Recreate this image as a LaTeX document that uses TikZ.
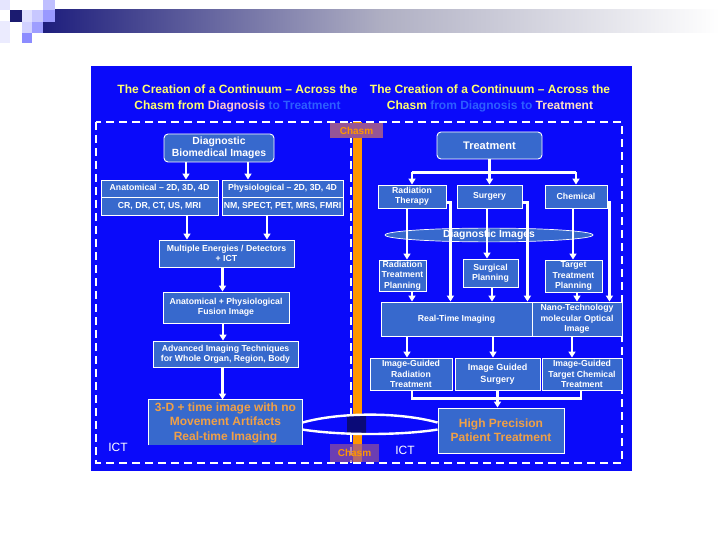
\documentclass[tikz,border=0pt]{standalone}
\usepackage{fontspec}
\setmainfont{Liberation Sans}
\usetikzlibrary{arrows.meta,calc,positioning,shapes.geometric}
\definecolor{PanelBlue}{RGB}{10,10,250}
\definecolor{BoxBlue}{RGB}{55,105,205}
\definecolor{ChasmOrange}{RGB}{255,150,0}
\definecolor{ChasmMauve}{RGB}{150,85,150}
\definecolor{TitleYellow}{RGB}{255,255,110}
\definecolor{TitlePink}{RGB}{255,200,205}
\definecolor{FaintBlue}{RGB}{45,95,255}
\definecolor{PeachText}{RGB}{255,225,195}
\definecolor{BridgeNavy}{RGB}{10,10,120}
\definecolor{BigText}{RGB}{240,160,70}
\definecolor{BarNavy}{RGB}{30,30,125}
\definecolor{BarMid}{RGB}{175,175,195}
\newcommand{\downarrowat}[3]{%
  \draw[arr] ($(#1.south)+(#3,0)$)--($(#1.south |- #2.north)+(#3,0)$);}

\begin{document}
\begin{tikzpicture}[x=1pt,y=-1pt,
  box/.style={draw=white,line width=0.9pt,fill=BoxBlue,text=white,align=center,
    inner sep=0pt,font=\bfseries\fontsize{8.7}{10.4}\selectfont},
  rbox/.style={box,rounded corners=4pt,font=\bfseries\fontsize{10.4}{12.5}\selectfont},
  bigtext/.style={text=BigText,font=\bfseries\fontsize{12}{14.5}\selectfont},
  arr/.style={-{Triangle[length=6pt,width=7pt]},white,line width=2.2pt},
  link/.style={white,line width=2.2pt},
  chasmdash/.style={white,line width=1.8pt,dash pattern=on 8pt off 5pt},
  chasmlabel/.style={fill=ChasmMauve,text=ChasmOrange,inner sep=0pt,
    font=\bfseries\fontsize{10}{12}\selectfont}]
  \useasboundingbox (0,0) rectangle (720,540);
  % slide header
  \shade[left color=BarNavy,right color=white,middle color=BarMid] (43,10) rectangle (720,33);
  \fill[black!4!blue!10] (0,0) rectangle (10,10);
  \fill[black!2!blue!8] (0,21) rectangle (10,43);
  \fill[BarNavy!90!black] (10,10) rectangle (22,22);
  \fill[blue!12] (22,10) rectangle (32,22);
  \fill[blue!22] (32,10) rectangle (43,22);
  \fill[blue!25] (43,0) rectangle (55,10);
  \fill[blue!40] (43,10) rectangle (55,22);
  \fill[blue!18] (22,22) rectangle (32,33);
  \fill[blue!38] (32,22) rectangle (43,33);
  \fill[blue!45] (22,33) rectangle (32,43);

  % panel and chasm
  \fill[PanelBlue] (91,66) rectangle (632,471);
  \draw[chasmdash] (96,122) rectangle (622,463);
  \draw[chasmdash] (351,122) -- (351,463);
  \fill[ChasmOrange] (353,122) rectangle (362,462);
  \node[chasmlabel,minimum width=53pt,minimum height=15pt] (chasmTop) at (356.5,130.5) {Chasm};
  \node[chasmlabel,fill opacity=0.7,text opacity=1,minimum width=49pt,minimum height=18pt] (chasmBot) at (354.5,453) {Chasm};

  % titles
  \node[align=center,font=\bfseries\fontsize{12}{16}\selectfont] (titleL) at (237.5,98)
    {\color{TitleYellow}The Creation of a Continuum -- Across the\\
     \color{TitleYellow}Chasm from \color{TitlePink}Diagnosis \color{FaintBlue}to Treatment};
  \node[align=center,font=\bfseries\fontsize{12}{16}\selectfont] (titleR) at (490,98)
    {\color{TitleYellow}The Creation of a Continuum -- Across the\\
     \color{TitleYellow}Chasm \color{FaintBlue}from Diagnosis to \color{PeachText}Treatment};

  % diagnosis side
  \node[rbox,minimum width=110pt,minimum height=28pt] (diag) at (219,148) {Diagnostic\\Biomedical Images};
  \node[box,minimum width=117pt,minimum height=17pt] (anatA) at (159.5,188.5) {Anatomical -- 2D, 3D, 4D};
  \node[box,minimum width=117pt,minimum height=18pt] (anatB) at (159.5,206) {CR, DR, CT, US, MRI};
  \node[box,minimum width=121pt,minimum height=17pt] (physA) at (282.5,188.5) {Physiological -- 2D, 3D, 4D};
  \node[box,minimum width=121pt,minimum height=18pt] (physB) at (282.5,206) {NM, SPECT, PET, MRS, FMRI};
  \node[box,minimum width=135pt,minimum height=27pt] (multi) at (226.5,253.5) {Multiple Energies / Detectors\\+ ICT};
  \node[box,minimum width=126pt,minimum height=31pt] (fusion) at (226,307.5) {Anatomical + Physiological\\Fusion Image};
  \node[box,minimum width=145pt,minimum height=26pt] (adv) at (225.5,354) {Advanced Imaging Techniques\\for Whole Organ, Region, Body};
  \node[box,draw=none,bigtext,minimum width=153pt,minimum height=45pt] (threeD) at (225.5,422.5)
    {3-D + time image with no\\Movement Artifacts\\Real-time Imaging};
  \draw[white,line width=0.9pt] (threeD.south west) -- (threeD.north west) -- (threeD.north east) -- (threeD.south east);
  \node[text=white,font=\fontsize{12}{14}\selectfont] (ictL) at (118,447) {ICT};

  \downarrowat{diag}{anatA}{-33}
  \downarrowat{diag}{physA}{29}
  \downarrowat{anatB}{multi}{27.5}
  \downarrowat{physB}{multi}{-15.5}
  \downarrowat{multi}{fusion}{-4}
  \downarrowat{fusion}{adv}{-3}
  \downarrowat{adv}{threeD}{-3}

  % treatment side
  \node[rbox,minimum width=105pt,minimum height=27pt,font=\bfseries\fontsize{11}{13}\selectfont] (treat) at (489.5,145.5) {Treatment};
  \node[box,minimum width=68pt,minimum height=23pt] (radT) at (412,196.5) {Radiation\\Therapy};
  \node[box,minimum width=65pt,minimum height=23pt] (surg) at (489.5,196.5) {Surgery};
  \node[box,minimum width=62pt,minimum height=23pt] (chem) at (576,196.5) {Chemical};
  \node[ellipse,draw=white,line width=0.7pt,fill=BoxBlue,text=white,inner sep=0pt,
    minimum width=208pt,minimum height=13pt,font=\bfseries\fontsize{10.4}{12}\selectfont] (dimg) at (489,235) {Diagnostic Images};
  \node[box,minimum width=47pt,minimum height=31pt] (radP) at (402.5,275.5) {Radiation\\Treatment\\Planning};
  \node[box,minimum width=55pt,minimum height=28pt] (surgP) at (490.5,273) {Surgical\\Planning};
  \node[box,minimum width=57pt,minimum height=32pt] (targP) at (573.5,276) {Target\\Treatment\\Planning};
  \node[box,minimum width=151pt,minimum height=34pt] (realtime) at (456.5,319) {Real-Time Imaging};
  \node[box,minimum width=90pt,minimum height=34pt] (nano) at (577,319) {Nano-Technology\\molecular Optical\\Image};
  \node[box,minimum width=82pt,minimum height=32pt] (igRad) at (411,374) {Image-Guided\\Radiation\\Treatment};
  \node[box,minimum width=85pt,minimum height=32pt,font=\bfseries\fontsize{9}{12}\selectfont] (igSurg) at (497.5,374) {Image Guided\\Surgery};
  \node[box,minimum width=80pt,minimum height=32pt] (igChem) at (582,374) {Image-Guided\\Target Chemical\\Treatment};
  \node[box,bigtext,minimum width=126pt,minimum height=45pt,font=\bfseries\fontsize{12}{14}\selectfont] (hp) at (501,430.5) {High Precision\\Patient Treatment};
  \node[text=white,font=\fontsize{12}{14}\selectfont] (ictR) at (405,450) {ICT};

  \draw[link] (treat.south) -- ++(0,13) coordinate (split);
  \draw[link] (split -| radT) -- (split -| chem);
  \draw[arr] (split -| radT) -- (radT.north);
  \draw[arr] (split -| surg) -- (surg.north);
  \draw[arr] (split -| chem) -- (chem.north);
  \downarrowat{radT}{radP}{-5}
  \downarrowat{surg}{surgP}{-2.5}
  \downarrowat{chem}{targP}{-3}
  \draw[arr] ($(radT.east)+(0,6)$) -| ($(radT.east |- realtime.north)+(4,0)$);
  \draw[arr] ($(surg.east)+(0,6)$) -| ($(surg.east |- realtime.north)+(5,0)$);
  \draw[arr] ($(chem.east)+(0,6)$) -| ($(chem.east |- nano.north)+(2,0)$);
  \downarrowat{radP}{realtime}{9.5}
  \downarrowat{surgP}{realtime}{1.5}
  \downarrowat{targP}{nano}{3.5}
  \downarrowat{realtime}{igRad}{-49.5}
  \downarrowat{realtime}{igSurg}{36.5}
  \downarrowat{nano}{igChem}{-5}
  \draw[link] ($(igRad.south)+(1,0)$) -- ++(0,8) -| ($(igChem.south)+(-1,0)$);
  \draw[arr] (igSurg.south) -- (igSurg.south |- hp.north);

  % bridge across the chasm
  \begin{scope}
    \clip (347,400) rectangle (366,445);
    \fill[BridgeNavy] ($(threeD.north east)+(0,23)$) .. controls (340,412) and (400,412) .. ($(hp.north west)+(0,15)$)
      -- ($(hp.north west)+(0,22)$) .. controls (400,435.5) and (340,435.5) .. ($(threeD.north east)+(0,30)$) -- cycle;
  \end{scope}
  \draw[white,line width=2.4pt] ($(threeD.north east)+(0,23)$) .. controls (340,412) and (400,412) .. ($(hp.north west)+(0,15)$);
  \draw[white,line width=2.4pt] ($(threeD.north east)+(0,30)$) .. controls (340,435.5) and (400,435.5) .. ($(hp.north west)+(0,22)$);
\end{tikzpicture}
\end{document}
